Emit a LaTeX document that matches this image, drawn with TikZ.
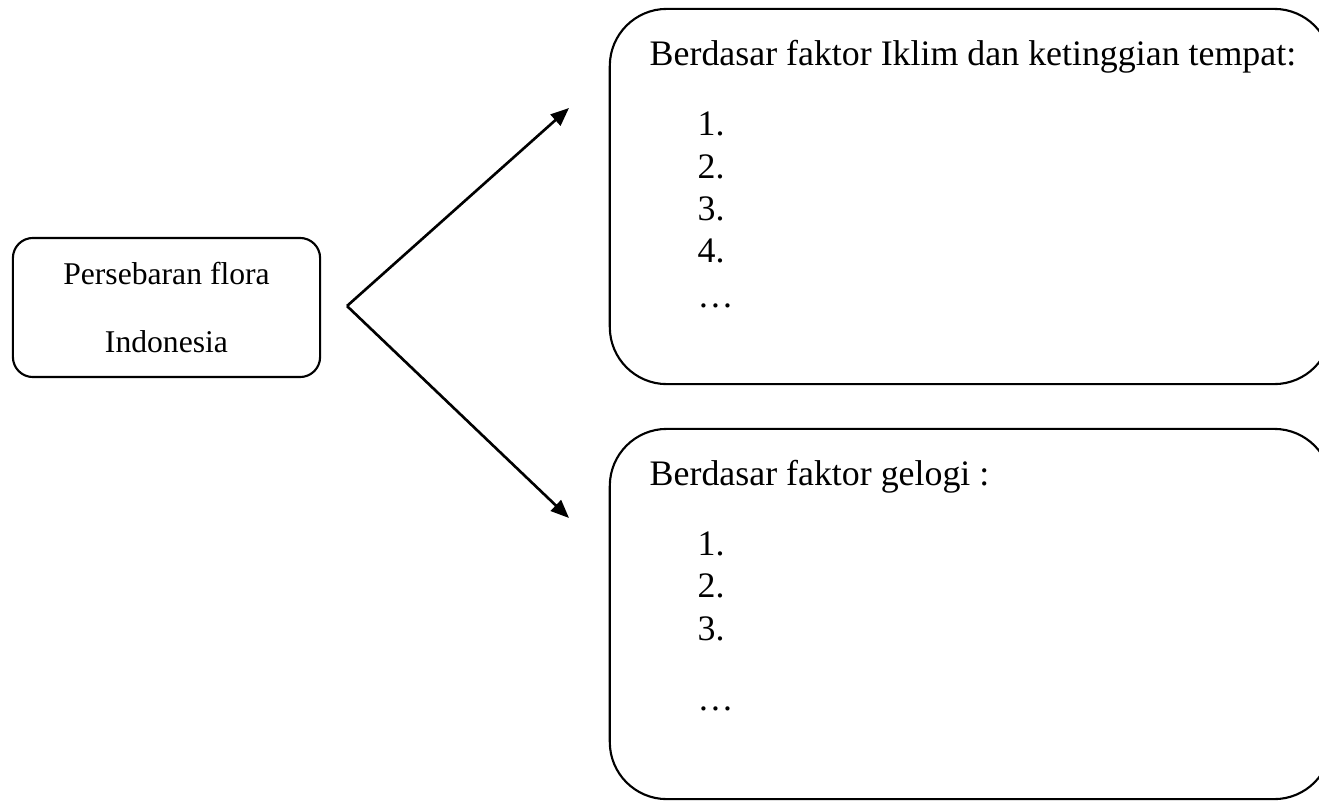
\documentclass[tikz,border=0pt]{standalone}
\usepackage{fontspec}
\setmainfont{Liberation Serif}
\usetikzlibrary{
    arrows.meta,
    positioning
}
\tikzset{
    roundbox/.style={draw, line width=0.6pt, inner sep=0pt},
    listtext/.style={anchor=base west, inner sep=0pt, font=\fontsize{10.2}{12}\selectfont},
    fork/.style={line width=0.75pt, -{Triangle[length=5.2pt, width=4.2pt]}}
}

\begin{document}
\begin{tikzpicture}[x=0.01cm, y=-0.01cm]
    \clip (0, 0) rectangle (1319, 800);
    \node[roundbox, rounded corners=2mm, minimum width=3.07cm, minimum height=1.39cm,
          align=center, font=\fontsize{9}{19.6}\selectfont] (flora) at (166.5, 307.5)
        {Persebaran flora\\Indonesia};
    \node[roundbox, rounded corners=5.7mm, minimum width=7.21cm, minimum height=3.75cm] (iklim) at (970.5, 196.5) {};
    \node[roundbox, rounded corners=5.7mm, minimum width=7.21cm, minimum height=3.70cm] (geo) at (970.5, 614) {};
    % first list
    \node[listtext] (iklimt) at (649, 65) {Berdasar faktor Iklim dan ketinggian tempat:};
    \node[listtext] (i1) at (697, 135) {1.};
    \node[listtext] (i2) at (697, 178) {2.};
    \node[listtext] (i3) at (697, 220) {3.};
    \node[listtext] (i4) at (697, 262) {4.};
    \node[listtext] (idots) at (697, 307) {…};
    % second list
    \node[listtext] (geot) at (649, 485) {Berdasar faktor gelogi :};
    \node[listtext] (g1) at (697, 555) {1.};
    \node[listtext] (g2) at (697, 597) {2.};
    \node[listtext] (g3) at (697, 640) {3.};
    \node[listtext] (gdots) at (697, 710) {…};
    % arrows
    \coordinate (split) at (347, 306);
    \coordinate (upend) at (569, 108);
    \coordinate (downend) at (569, 518);
    \draw[fork] (split) -- (upend);
    \draw[fork] (split) -- (downend);
\end{tikzpicture}
\end{document}
